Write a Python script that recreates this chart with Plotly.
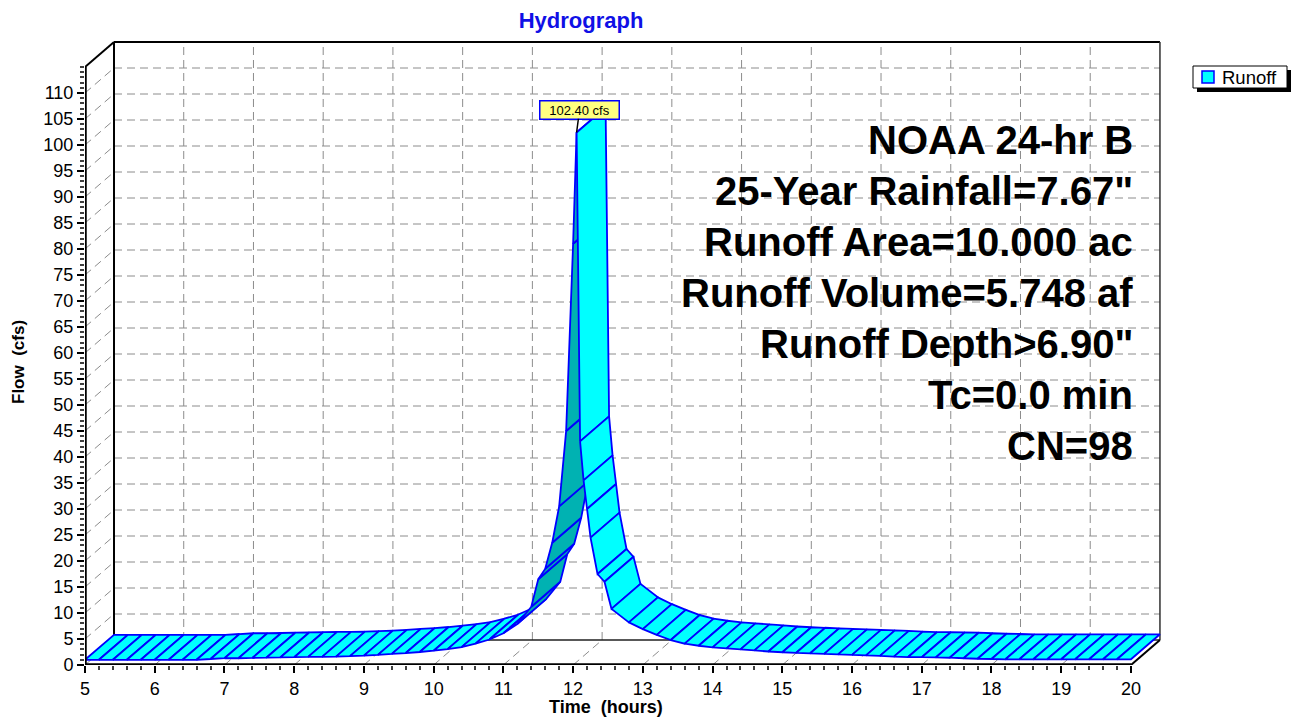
import plotly.graph_objects as go

# ---------------- data ----------------
time_hr = [5.0, 5.2, 5.4, 5.6, 5.8, 6.0, 6.2, 6.4, 6.6, 6.8,
           7.0, 7.2, 7.4, 7.6, 7.8, 8.0, 8.2, 8.4, 8.6, 8.8,
           9.0, 9.2, 9.4, 9.6, 9.8, 10.0, 10.2, 10.4, 10.6, 10.8,
           11.0, 11.2, 11.4, 11.5, 11.6, 11.7, 11.8, 11.9, 12.0, 12.05,
           12.1, 12.15, 12.2, 12.25, 12.35, 12.45, 12.55, 12.8, 13.0, 13.2,
           13.4, 13.6, 13.8, 14.0, 14.2, 14.4, 14.6, 14.8, 15.0, 15.2,
           15.4, 15.6, 15.8, 16.0, 16.2, 16.4, 16.6, 16.8, 17.0, 17.2,
           17.4, 17.6, 17.8, 18.0, 18.2, 18.4, 18.6, 18.8, 19.0, 19.2,
           19.4, 19.6, 19.8, 20.0]
flow_cfs = [1.0, 1.0, 1.0, 1.0, 1.0, 1.0, 1.0, 1.0, 1.0, 1.15,
            1.3, 1.3, 1.35, 1.4, 1.45, 1.5, 1.55, 1.55, 1.6, 1.7,
            1.8, 1.95, 2.15, 2.3, 2.5, 2.75, 3.05, 3.45, 4.1, 4.9,
            6.1, 7.9, 11.2, 16.5, 18.5, 23.5, 30.5, 45.0, 81.0, 102.4,
            43.0, 35.5, 30.0, 24.5, 17.5, 16.0, 10.8, 8.2, 6.9, 5.8,
            4.8, 4.1, 3.7, 3.4, 3.2, 3.0, 2.8, 2.6, 2.45, 2.35,
            2.25, 2.15, 2.05, 1.95, 1.85, 1.75, 1.6, 1.5, 1.5, 1.45,
            1.4, 1.3, 1.2, 1.15, 1.1, 1.1, 1.1, 1.1, 1.1, 1.1,
            1.1, 1.1, 1.1, 1.1]
series_name = "Runoff"
peak_time = 12.05
peak_flow = 102.40
peak_label = "102.40 cfs"
x_tick_vals = list(range(5, 21))
y_tick_vals = list(range(0, 111, 5))
info_lines = ["NOAA 24-hr B", "25-Year Rainfall=7.67\"", "Runoff Area=10.000 ac",
              "Runoff Volume=5.748 af", "Runoff Depth>6.90\"", "Tc=0.0 min", "CN=98"]
title_text = "Hydrograph"
x_title = "Time  (hours)"
y_title = "Flow  (cfs)"

# ---------------- geometry / style ----------------
W, H = 1294, 719
ML, MR, MT, MB = 85, 129, 36, 54
PW = W - ML - MR
PH = H - MT - MB
X0, X1 = 5.0, 20.0
Y_TOP = 115
PX_X = 69.73
PX_Y = 5.2
x_range = [X0, X0 + PW / PX_X]
y_range = [0, PH / PX_Y]
DX = 29 / PX_X          # 3-D depth offset in data units
DY = 25 / PX_Y
FONT = "Arial, 'Liberation Sans', sans-serif"
CYAN = "#00FFFF"
TEAL = "#00B2B2"
BLUE = "#0000FF"
GRID = "#8c8c8c"
DASH = "8px,5px"

shapes = []


def px_x(p):
    return (p - ML) / PW


def px_y(p):
    return (H - MB - p) / PH


def line(x0, y0, x1, y1, color, width, dash="solid", layer="below"):
    shapes.append(dict(type="line", xref="x", yref="y", x0=x0, y0=y0, x1=x1, y1=y1,
                       line=dict(color=color, width=width, dash=dash), layer=layer))


# back wall / side wall / floor gridlines
for q in range(5, 111, 5):
    line(X0 + DX, q + DY, X1 + DX, q + DY, GRID, 1, DASH)
    line(X0, q, X0 + DX, q + DY, GRID, 1, DASH)
for t in range(6, 20):
    line(t + DX, DY, t + DX, Y_TOP + DY, GRID, 1, DASH)
    line(t, 0, t + DX, DY, GRID, 1, DASH)
line(X0, 0, X0 + DX, DY, GRID, 1, DASH)
# frame of back wall / floor
line(X0 + DX, DY, X1 + DX, DY, "#202020", 1.5)
line(X0 + DX, DY, X0 + DX, Y_TOP + DY, "black", 2)
line(X0 + DX, Y_TOP + DY, X1 + DX, Y_TOP + DY, "black", 2)
line(X1 + DX, DY, X1 + DX, Y_TOP + DY, "#303030", 1.5)
line(X0, Y_TOP, X0 + DX, Y_TOP + DY, "black", 2)
line(X1, 0, X1 + DX, DY, "black", 2, layer="above")
# front axes
line(X0, 0, X0, Y_TOP, "black", 3.5, layer="above")
line(X0, 0, X1, 0, "black", 3.5, layer="above")

# legend box (shadow, box, symbol)
shapes.append(dict(type="rect", xref="paper", yref="paper",
                   x0=px_x(1197), x1=px_x(1291), y0=px_y(92), y1=px_y(70),
                   fillcolor="black", line=dict(width=0), layer="above"))
shapes.append(dict(type="rect", xref="paper", yref="paper",
                   x0=px_x(1193), x1=px_x(1287), y0=px_y(88), y1=px_y(66),
                   fillcolor="white", line=dict(color="black", width=1), layer="above"))
shapes.append(dict(type="rect", xref="paper", yref="paper",
                   x0=px_x(1202), x1=px_x(1214), y0=px_y(83), y1=px_y(71),
                   fillcolor=CYAN, line=dict(color=BLUE, width=1.5), layer="above"))

fig = go.Figure()

# ribbon (3-D hydrograph), drawn segment by segment from left to right
for i in range(len(time_hr) - 1):
    t0, t1 = time_hr[i], time_hr[i + 1]
    q0, q1 = flow_cfs[i], flow_cfs[i + 1]
    sx = (t1 - t0) * PX_X
    sy = (q1 - q0) * PX_Y
    cross = sx * 25 - sy * 29
    color = CYAN if cross >= 0 else TEAL
    fig.add_trace(go.Scatter(
        x=[t0, t1, t1 + DX, t0 + DX, t0],
        y=[q0, q1, q1 + DY, q0 + DY, q0],
        mode="lines", fill="toself", fillcolor=color, name=series_name,
        line=dict(color=BLUE, width=1.8), hoverinfo="skip", showlegend=False))

annotations = []
# legend text
annotations.append(dict(xref="paper", yref="paper", x=px_x(1220), y=px_y(77),
                        xanchor="left", yanchor="middle", showarrow=False, text=series_name,
                        font=dict(family=FONT, size=18.5, color="black")))
# info text block
for k, txt in enumerate(info_lines):
    ypx = 140 + k * 51
    annotations.append(dict(xref="x", yref="paper", x=X1 + 0.06, y=px_y(ypx),
                            xanchor="right", yanchor="middle", showarrow=False,
                            text="<b>%s</b>" % txt,
                            font=dict(family=FONT, size=40, color="black")))
# peak label
annotations.append(dict(xref="x", yref="y", x=peak_time, y=peak_flow, text=peak_label,
                        showarrow=True, arrowhead=0, arrowwidth=1.5, arrowcolor="black",
                        ax=3, ay=-23, bgcolor="#FFFF80", bordercolor=BLUE, borderwidth=1.5,
                        borderpad=1, width=76, height=15,
                        font=dict(family=FONT, size=13, color="black")))
# axis titles
annotations.append(dict(xref="paper", yref="paper", x=px_x(606), y=px_y(707),
                        xanchor="center", yanchor="middle", showarrow=False,
                        text="<b>%s</b>" % x_title, font=dict(family=FONT, size=18, color="black")))
annotations.append(dict(xref="paper", yref="paper", x=px_x(18), y=px_y(362),
                        xanchor="center", yanchor="middle", showarrow=False, textangle=-90,
                        text="<b>%s</b>" % y_title, font=dict(family=FONT, size=17, color="black")))

fig.update_layout(
    width=W, height=H,
    margin=dict(l=ML, r=MR, t=MT, b=MB, autoexpand=False),
    paper_bgcolor="white", plot_bgcolor="white",
    font=dict(family=FONT, color="black"),
    title=dict(text="<b>%s</b>" % title_text, x=px_x(581), xref="paper", xanchor="center",
               y=1 - 20 / H, yanchor="middle", font=dict(family=FONT, size=22, color="#1010e6")),
    xaxis=dict(range=x_range, showgrid=False, zeroline=False, showline=False,
               tickmode="array", tickvals=x_tick_vals, ticks="outside", ticklen=7,
               tickwidth=1.5, tickcolor="black", tickfont=dict(size=18, family=FONT),
               minor=dict(tickvals=[5 + 0.2 * k for k in range(76)], ticks="outside",
                          ticklen=4, tickwidth=1.5, tickcolor="#404040")),
    yaxis=dict(range=y_range, showgrid=False, zeroline=False, showline=False,
               tickmode="array", tickvals=y_tick_vals, ticks="outside", ticklen=7,
               tickwidth=1.5, tickcolor="black", tickfont=dict(size=18, family=FONT),
               minor=dict(tickvals=list(range(0, 116)), ticks="outside",
                          ticklen=4, tickwidth=1.5, tickcolor="#404040")),
    shapes=shapes,
    annotations=annotations,
    showlegend=False,
)

fig.write_html("out.html", config={"displayModeBar": False},
               post_script="document.body.style.margin='0';document.body.style.overflow='hidden';")
